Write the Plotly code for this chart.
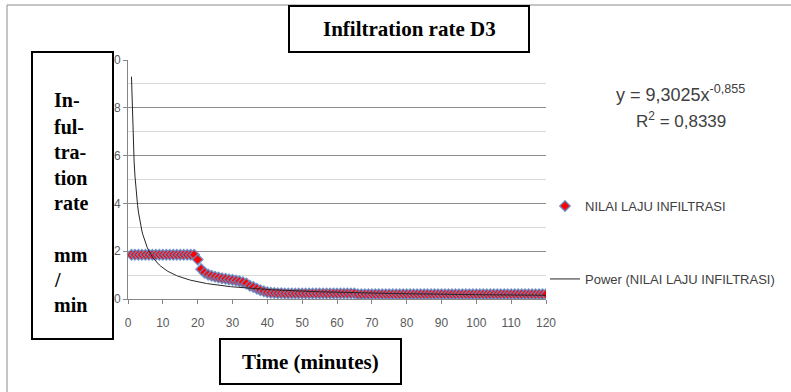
import plotly.graph_objects as go

# ---------------- data ----------------
minutes = list(range(1, 121))
rate_first = [1.85] * 19  # minutes 1-19
rate_drop = [1.65, 1.25, 1.10, 1.02, 0.97, 0.93, 0.90, 0.87, 0.85, 0.82,
             0.80, 0.77, 0.74, 0.70, 0.65, 0.55, 0.50, 0.43, 0.37, 0.32,
             0.28, 0.26, 0.25, 0.24, 0.24]  # minutes 20-44
rate_mid = [0.23] * 21   # minutes 45-65
rate_tail = [0.20] * 55  # minutes 66-120
rate = rate_first + rate_drop + rate_mid + rate_tail

fit_a = 9.3025
fit_b = -0.855
fit_x = [1 + i * 0.25 for i in range(int((120 - 1) / 0.25) + 1)]
fit_y = [fit_a * x ** fit_b for x in fit_x]

x_ticks = list(range(0, 121, 10))
y_ticks = list(range(0, 11, 2))

title_text = "Infiltration rate D3"
x_title = "Time (minutes)"
y_title_lines = ["In-", "ful-", "tra-", "tion", "rate", "", "mm", "/", "min"]
eq_text = "y = 9,3025x<sup>-0,855</sup>"
r2_text = "R<sup>2</sup> = 0,8339"
series_name = "NILAI LAJU INFILTRASI"
trend_name = "Power (NILAI LAJU INFILTRASI)"

# ---------------- layout helpers ----------------
W, H = 791, 392
L, R, T, B = 128, 245, 60, 93
PW, PH = W - L - R, H - T - B


def px(x):
    return (x - L) / PW


def py(y):
    return (H - B - y) / PH


SANS = "Liberation Sans, Arial, sans-serif"
SERIF = "Liberation Serif, Times New Roman, serif"

fig = go.Figure()
fig.add_trace(go.Scatter(
    x=minutes, y=rate, mode="markers", name=series_name,
    marker=dict(symbol="diamond", size=8, color="#FF0000",
                line=dict(color="rgba(95,140,200,0.85)", width=1.5)),
    legend="legend"))
fig.add_trace(go.Scatter(
    x=fit_x, y=fit_y, mode="lines", name=trend_name,
    line=dict(color="#262626", width=1), legend="legend2"))

shapes = [
    # outer chart border
    dict(type="rect", xref="paper", yref="paper", x0=px(7), x1=px(800), y0=py(5), y1=py(400),
         line=dict(color="#8c8c8c", width=1), fillcolor="rgba(0,0,0,0)", layer="below"),
    # title box
    dict(type="rect", xref="paper", yref="paper", x0=px(289), x1=px(529), y0=py(6), y1=py(52),
         line=dict(color="black", width=2), fillcolor="white", layer="above"),
    # y title box
    dict(type="rect", xref="paper", yref="paper", x0=px(32), x1=px(113), y0=py(52), y1=py(339),
         line=dict(color="black", width=2), fillcolor="white", layer="above"),
    # x title box
    dict(type="rect", xref="paper", yref="paper", x0=px(220), x1=px(401), y0=py(339), y1=py(384),
         line=dict(color="black", width=2), fillcolor="white", layer="above"),
]

annotations = [
    dict(text="<b>%s</b>" % title_text, x=px(409), y=py(29), xref="paper", yref="paper",
         showarrow=False, xanchor="center", yanchor="middle",
         font=dict(family=SERIF, size=21, color="black")),
    dict(text="<b>%s</b>" % x_title, x=px(310), y=py(362), xref="paper", yref="paper",
         showarrow=False, xanchor="center", yanchor="middle",
         font=dict(family=SERIF, size=21, color="black")),
    dict(text=eq_text, x=px(680), y=py(93), xref="paper", yref="paper",
         showarrow=False, xanchor="center", yanchor="middle",
         font=dict(family=SANS, size=18, color="#404040")),
    dict(text=r2_text, x=px(681), y=py(120), xref="paper", yref="paper",
         showarrow=False, xanchor="center", yanchor="middle",
         font=dict(family=SANS, size=17, color="#404040")),
]
line_y = [100, 127, 152, 178, 203, 229, 255, 280, 305]
for txt, yy in zip(y_title_lines, line_y):
    if txt:
        annotations.append(dict(text="<b>%s</b>" % txt, x=px(52), y=py(yy), xref="paper", yref="paper",
                                showarrow=False, xanchor="left", yanchor="middle",
                                font=dict(family=SERIF, size=20, color="black")))

fig.update_layout(
    width=W, height=H,
    margin=dict(l=L, r=R, t=T, b=B, pad=0, autoexpand=False),
    paper_bgcolor="white", plot_bgcolor="white",
    shapes=shapes, annotations=annotations,
    showlegend=True,
    legend=dict(x=px(545), y=py(206), xanchor="left", yanchor="middle",
                bgcolor="rgba(0,0,0,0)", font=dict(family=SANS, size=13, color="#404040")),
    legend2=dict(x=px(545), y=py(279), xanchor="left", yanchor="middle",
                 bgcolor="rgba(0,0,0,0)", font=dict(family=SANS, size=13, color="#404040")),
    xaxis=dict(range=[0, 120], tickvals=x_ticks, ticktext=[str(v) for v in x_ticks],
               showgrid=False, zeroline=False, showline=True, linecolor="#868686", linewidth=1,
               ticks="outside", ticklen=4, tickcolor="#868686", ticklabelstandoff=9,
               tickfont=dict(family=SANS, size=12, color="#595959")),
    yaxis=dict(range=[0, 10], tickvals=y_ticks, ticktext=[str(v) for v in y_ticks],
               showgrid=True, gridcolor="#8c8c8c", gridwidth=1, zeroline=False,
               showline=True, linecolor="#868686", linewidth=1,
               ticks="outside", ticklen=4, tickcolor="#868686",
               tickfont=dict(family=SANS, size=12, color="#595959"),
               minor=dict(dtick=1, showgrid=True, gridcolor="#d9d9d9", gridwidth=1)),
)

fig.write_html("out.html", config={"displayModeBar": False},
               post_script="document.body.style.margin='0';")
